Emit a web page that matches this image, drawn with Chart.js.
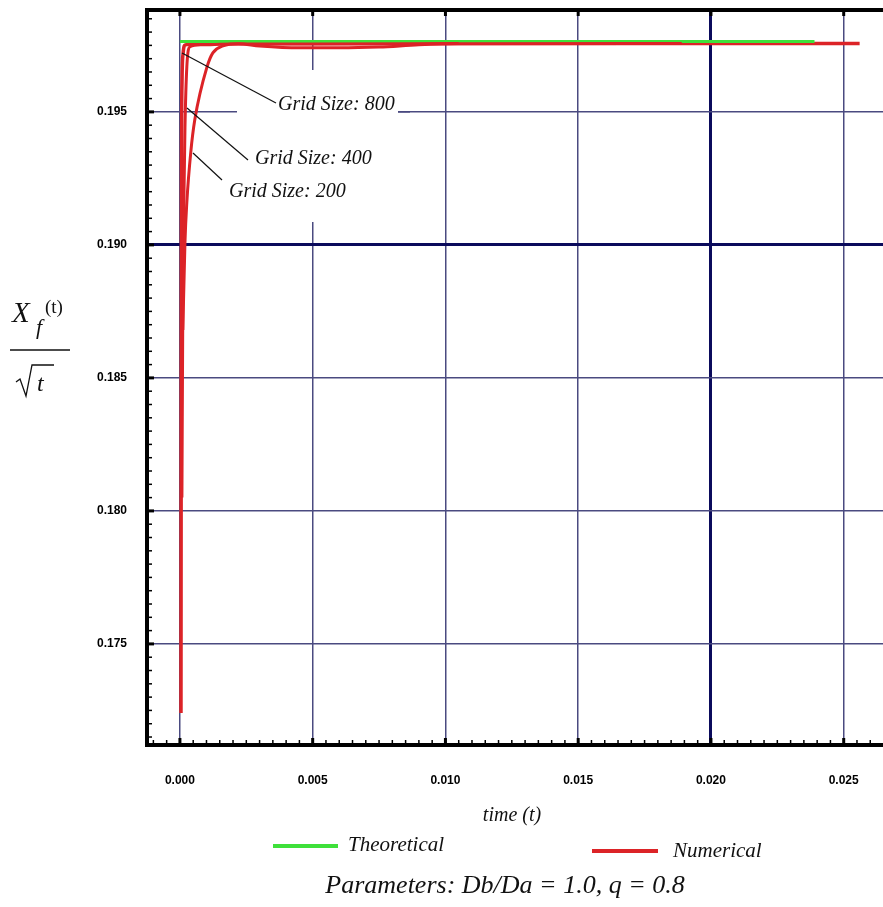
<!DOCTYPE html>
<html>
<head>
<meta charset="utf-8">
<script src="https://cdn.jsdelivr.net/npm/chart.js@4"></script>
<style>
  html, body { margin: 0; padding: 0; background: #fff; }
  #wrap { width: 883px; height: 907px; }
</style>
</head>
<body>
<div id="wrap"><canvas id="grafica" width="883" height="907"></canvas></div>
<script>
// datos
const xTicks = [0, 0.005, 0.010, 0.015, 0.020, 0.025]
const yTicks = [0.175, 0.180, 0.185, 0.190, 0.195]

const theoT = [0, 0.0239]
const theoY = [0.19765, 0.19765]

const grid200T = [0.00011, 0.00019, 0.00026, 0.00041, 0.00056, 0.00102, 0.00124, 0.00162, 0.0022, 0.003, 0.0045, 0.006, 0.0075, 0.009, 0.0105, 0.0189]
const grid200Y = [0.1868, 0.1901, 0.1916, 0.1935, 0.1947, 0.19669, 0.19722, 0.19748, 0.19756, 0.19748, 0.19741, 0.19741, 0.19744, 0.19752, 0.19756, 0.19757]

const grid400T = [0.000075, 0.00011, 0.00015, 0.00019, 0.00026, 0.00038, 0.0008, 0.002, 0.005, 0.0105]
const grid400Y = [0.1805, 0.1879, 0.1917, 0.1944, 0.19669, 0.19745, 0.19752, 0.19755, 0.19755, 0.19757]

const grid800T = [0.00004, 0.00005, 0.00006, 0.00008, 0.00012, 0.0002, 0.001, 0.005, 0.010, 0.015, 0.020, 0.0256]
const grid800Y = [0.1724, 0.1850, 0.1930, 0.1962, 0.1972, 0.19752, 0.19757, 0.19757, 0.19757, 0.19757, 0.19757, 0.19757]

const COLORS = {
  green: '#3ee03a',
  red:   '#dc2327',
  grid:  '#4a4a80',
  gridDark: '#0b0b5c',
}

function pts(t, y) { return t.map(function(v, i) { return { x: v, y: y[i] } }) }

const SERIF = "'Liberation Serif', 'DejaVu Serif', serif"
const TICKFONT = { family: "'Liberation Sans Narrow', 'Liberation Sans', Arial, sans-serif", size: 12, weight: 'bold' }

// ejes menores, marco superior, anotaciones, leyenda y titulos
const extras = {
  id: 'extras',
  beforeDatasetsDraw(chart) {
    const c = chart.ctx
    // caja blanca detras de las etiquetas (tapa la reticula)
    c.save()
    c.fillStyle = '#fff'
    c.fillRect(237, 70, 161, 152)
    c.restore()
  },
  afterDraw(chart) {
    const c = chart.ctx, a = chart.chartArea
    const xs = chart.scales.x, ys = chart.scales.y
    c.save()
    c.strokeStyle = '#000'
    // marco superior
    c.lineWidth = 4
    c.beginPath(); c.moveTo(a.left - 2, a.top); c.lineTo(a.right, a.top); c.stroke()
    // marcas menores eje x
    for (let i = Math.ceil(xs.min / 0.0005); i <= Math.floor(xs.max / 0.0005); i++) {
      const px = xs.getPixelForValue(i * 0.0005)
      const major = i % 10 === 0
      c.lineWidth = major ? 3 : 1.5
      c.beginPath(); c.moveTo(px, a.bottom); c.lineTo(px, a.bottom - (major ? 7 : 5)); c.stroke()
      if (major) { c.beginPath(); c.moveTo(px, a.top); c.lineTo(px, a.top + 6); c.stroke() }
    }
    // marcas menores eje y
    for (let i = Math.ceil(ys.min / 0.0005); i <= Math.floor(ys.max / 0.0005); i++) {
      const py = ys.getPixelForValue(i * 0.0005)
      const major = i % 10 === 0
      c.lineWidth = major ? 3 : 1.5
      c.beginPath(); c.moveTo(a.left, py); c.lineTo(a.left + (major ? 7 : 5), py); c.stroke()
    }

    // anotaciones
    c.lineWidth = 1.2
    c.strokeStyle = '#111'
    const leaders = [[182, 53, 276, 103], [187, 108, 248, 160], [193, 153, 222, 180]]
    leaders.forEach(function(l) { c.beginPath(); c.moveTo(l[0], l[1]); c.lineTo(l[2], l[3]); c.stroke() })
    c.fillStyle = '#111'
    c.font = 'italic 20px ' + SERIF
    c.textBaseline = 'middle'
    c.textAlign = 'left'
    c.fillText('Grid Size: 800', 278, 105)
    c.fillText('Grid Size: 400', 255, 159)
    c.fillText('Grid Size: 200', 229, 192)
    // trozo de reticula que sigue tras la etiqueta
    c.strokeStyle = COLORS.grid; c.lineWidth = 1.5
    c.beginPath(); c.moveTo(398, ys.getPixelForValue(0.195)); c.lineTo(410, ys.getPixelForValue(0.195)); c.stroke()

    // titulo eje x
    c.fillStyle = '#111'
    c.textAlign = 'center'
    c.font = 'italic 20px ' + SERIF
    c.fillText('time (t)', 512, 816)

    // leyenda
    c.lineWidth = 4
    c.strokeStyle = COLORS.green
    c.beginPath(); c.moveTo(273, 846); c.lineTo(338, 846); c.stroke()
    c.strokeStyle = COLORS.red
    c.beginPath(); c.moveTo(592, 851); c.lineTo(658, 851); c.stroke()
    c.textAlign = 'left'
    c.font = 'italic 21px ' + SERIF
    c.fillText('Theoretical', 348, 845)
    c.fillText('Numerical', 673, 851)

    c.textAlign = 'center'
    c.font = 'italic 26px ' + SERIF
    c.fillText('Parameters: Db/Da = 1.0, q = 0.8', 505, 886)

    // titulo eje y: X_f(t) / sqrt(t)
    c.textAlign = 'left'
    c.textBaseline = 'alphabetic'
    c.font = 'italic 29px ' + SERIF
    c.fillText('X', 12, 322)
    c.font = 'italic 22px ' + SERIF
    c.fillText('f', 36, 334)
    c.font = '19px ' + SERIF
    c.fillText('(t)', 45, 313)
    c.strokeStyle = '#111'
    c.lineWidth = 1.5
    c.beginPath(); c.moveTo(10, 350); c.lineTo(70, 350); c.stroke()
    c.lineWidth = 1.3
    c.beginPath()
    c.moveTo(16, 382); c.lineTo(20, 379); c.lineTo(26, 396); c.lineTo(32, 365); c.lineTo(54, 365)
    c.stroke()
    c.font = 'italic 24px ' + SERIF
    c.fillText('t', 37, 391)
    c.restore()
  }
}

new Chart(document.getElementById('grafica'), {
  type: 'scatter',
  data: {
    datasets: [
      { label: 'Grid Size: 200', data: pts(grid200T, grid200Y), borderColor: COLORS.red, borderWidth: 3 },
      { label: 'Grid Size: 400', data: pts(grid400T, grid400Y), borderColor: COLORS.red, borderWidth: 3 },
      { label: 'Theoretical', data: pts(theoT, theoY), borderColor: COLORS.green, borderWidth: 3 },
      { label: 'Grid Size: 800', data: pts(grid800T, grid800Y), borderColor: COLORS.red, borderWidth: 3.5 },
    ].map(function(d) {
      return Object.assign(d, { showLine: true, pointRadius: 0, cubicInterpolationMode: 'monotone', fill: false })
    })
  },
  options: {
    responsive: false,
    animation: false,
    layout: { padding: { top: 10, right: 0, left: 0, bottom: 0 } },
    plugins: { legend: { display: false }, tooltip: { enabled: false } },
    scales: {
      x: {
        type: 'linear',
        min: -0.00124,
        max: 0.02648,
        afterBuildTicks(s) { s.ticks = xTicks.map(function(v) { return { value: v } }) },
        afterFit(s) { s.height = 162; s.paddingLeft = 0; s.paddingRight = 0 },
        ticks: {
          color: '#000', font: TICKFONT, padding: 28, maxRotation: 0,
          callback: function(v) { return v.toFixed(3) }
        },
        grid: {
          drawTicks: false,
          color: function(ctx) { return Math.abs(ctx.tick.value - 0.020) < 1e-6 ? COLORS.gridDark : COLORS.grid },
          lineWidth: function(ctx) { return Math.abs(ctx.tick.value - 0.020) < 1e-6 ? 3 : 1.5 },
        },
        border: { color: '#000', width: 4 },
      },
      y: {
        type: 'linear',
        min: 0.1712,
        max: 0.19883,
        afterBuildTicks(s) { s.ticks = yTicks.map(function(v) { return { value: v } }) },
        afterFit(s) { s.width = 147; s.paddingTop = 0; s.paddingBottom = 0 },
        ticks: {
          color: '#000', font: TICKFONT, padding: 20,
          callback: function(v) { return v.toFixed(3) }
        },
        grid: {
          drawTicks: false,
          color: function(ctx) { return Math.abs(ctx.tick.value - 0.190) < 1e-6 ? COLORS.gridDark : COLORS.grid },
          lineWidth: function(ctx) { return Math.abs(ctx.tick.value - 0.190) < 1e-6 ? 3 : 1.5 },
        },
        border: { color: '#000', width: 4 },
      }
    }
  },
  plugins: [extras]
})
</script>
</body>
</html>
